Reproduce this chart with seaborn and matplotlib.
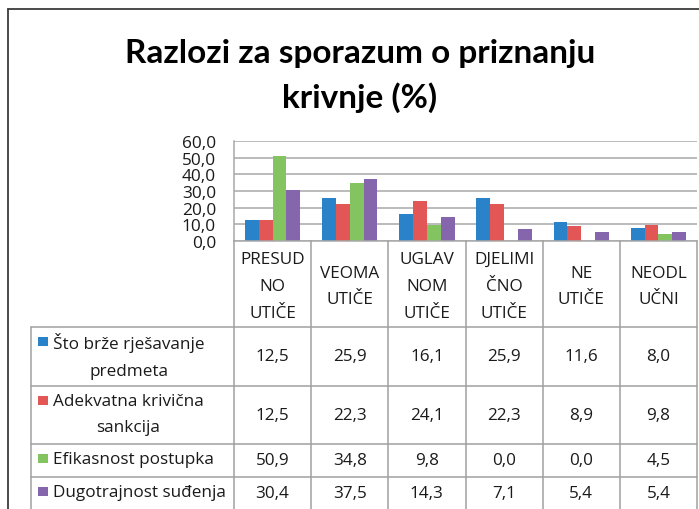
import matplotlib
matplotlib.use("Agg")
import matplotlib.pyplot as plt
from matplotlib.lines import Line2D
from matplotlib.patches import Rectangle
import seaborn as sns
import pandas as pd

# ---- data -------------------------------------------------------------
categories = ["PRESUD\nNO\nUTIČE", "VEOMA\nUTIČE", "UGLAV\nNOM\nUTIČE",
              "DJELIMI\nČNO\nUTIČE", "NE\nUTIČE", "NEODL\nUČNI"]
series_names = ["Što brže rješavanje\npredmeta", "Adekvatna krivična\nsankcija",
                "Efikasnost postupka", "Dugotrajnost suđenja"]
brze_rjesavanje = [12.5, 25.9, 16.1, 25.9, 11.6, 8.0]
adekvatna_sankcija = [12.5, 22.3, 24.1, 22.3, 8.9, 9.8]
efikasnost = [50.9, 34.8, 9.8, 0.0, 0.0, 4.5]
dugotrajnost = [30.4, 37.5, 14.3, 7.1, 5.4, 5.4]
y_ticks = [0, 10, 20, 30, 40, 50, 60]
title = "Razlozi za sporazum o priznanju\nkrivnje (%)"

series_values = [brze_rjesavanje, adekvatna_sankcija, efikasnost, dugotrajnost]
colors = ["#2A82C8", "#E25656", "#84C460", "#8565AC"]

df = pd.DataFrame(
    [(c, s, v) for s, vals in zip(series_names, series_values)
     for c, v in zip(categories, vals)],
    columns=["kategorija", "razlog", "procenat"],
)

def fmt(v):
    return f"{v:.1f}".replace(".", ",")

# ---- figure -----------------------------------------------------------
sns.set_theme(style="white")
plt.rcParams["font.family"] = ["Open Sans", "DejaVu Sans"]

W, H = 699, 510
fig = plt.figure(figsize=(W / 100, H / 100), dpi=100)
fig.patch.set_facecolor("white")

grid_c = "#A8A8A8"
line_c = "#A0A0A0"
text_c = "#1A1A1A"

# plot area (pixel layout)
px_left, px_right, px_top, px_base = 234, 697, 142, 242
ax = fig.add_axes([px_left / W, 1 - px_base / H,
                   (px_right - px_left) / W, (px_base - px_top) / H])

sns.barplot(data=df, x="kategorija", y="procenat", hue="razlog",
            palette=colors, width=0.715, gap=0, saturation=1,
            errorbar=None, legend=False, ax=ax, linewidth=0)

ax.set_xlim(-0.5, len(categories) - 0.5)
ax.set_ylim(0, 60)
ax.set_yticks(y_ticks)
ax.set_yticklabels([fmt(t) for t in y_ticks], fontsize=12.4, color=text_c)
ax.tick_params(axis="y", length=0, pad=13)
ax.set_xticks([])
ax.set_xlabel("")
ax.set_ylabel("")
ax.grid(axis="y", color=grid_c, linewidth=1.1)
ax.set_axisbelow(True)
for side in ["top", "right"]:
    ax.spines[side].set_visible(False)
for side in ["left", "bottom"]:
    ax.spines[side].set_color(grid_c)
    ax.spines[side].set_linewidth(1.1)

# ---- data table below the plot ---------------------------------------
tab_left = 30.7
col_px = (px_right - px_left) / len(categories)
label_cols = (px_left - tab_left) / col_px
tab = fig.add_axes([tab_left / W, 0, (px_right - tab_left) / W, (H - px_base) / H])
x0 = -0.5 - label_cols
x_end = len(categories) - 0.5
tab.set_xlim(x0, x_end)
tab.set_ylim(H - px_base, 0)
tab.axis("off")

row_edges = [0, 86, 145, 203, 236, 269]   # header + four series rows

# vertical rules
for k in range(len(categories) + 1):
    tab.plot([-0.5 + k, -0.5 + k], [row_edges[0], row_edges[-1]],
             color=line_c, lw=1.1, clip_on=False)
tab.plot([x0, x0], [row_edges[1], row_edges[-1]], color=line_c, lw=1.1, clip_on=False)
# horizontal rules
for y in row_edges[1:]:
    tab.plot([x0, x_end], [y, y], color=line_c, lw=1.1, clip_on=False)

# header row: category names
for i, cat in enumerate(categories):
    tab.text(i, (row_edges[0] + row_edges[1]) / 2 + 2, cat, ha="center", va="center",
             multialignment="center", fontsize=12.3, color=text_c, linespacing=1.9)

# series rows: legend key, name and values
key_px = 9.5
for r, (name, vals, col) in enumerate(zip(series_names, series_values, colors)):
    top, bot = row_edges[r + 1], row_edges[r + 2]
    mid = (top + bot) / 2
    key_y = top + 14.5
    tab.add_patch(Rectangle((x0 + 7.5 / col_px, key_y - key_px / 2),
                            key_px / col_px, key_px, facecolor=col,
                            edgecolor="none", clip_on=False))
    tab.text(x0 + 22.3 / col_px, mid - 1, name, ha="left", va="center",
             multialignment="center", fontsize=12.3, color=text_c, linespacing=1.85)
    for i, v in enumerate(vals):
        tab.text(i, mid, fmt(v), ha="center", va="center",
                 fontsize=12.3, color=text_c)

# ---- title and outer frame -------------------------------------------
fig.text(360 / W, 1 - 76 / H, title, ha="center", va="center",
         fontsize=24, fontweight="bold", family=["Lato", "DejaVu Sans"],
         color="black", linespacing=1.55)

fig.add_artist(Line2D([8 / W, 1], [1 - 10 / H, 1 - 10 / H],
                      transform=fig.transFigure, color="#3C3C3C", lw=1.3))
fig.add_artist(Line2D([8 / W, 8 / W], [0, 1 - 10 / H],
                      transform=fig.transFigure, color="#3C3C3C", lw=1.3))

fig.savefig("out.png", dpi=100, facecolor="white")
